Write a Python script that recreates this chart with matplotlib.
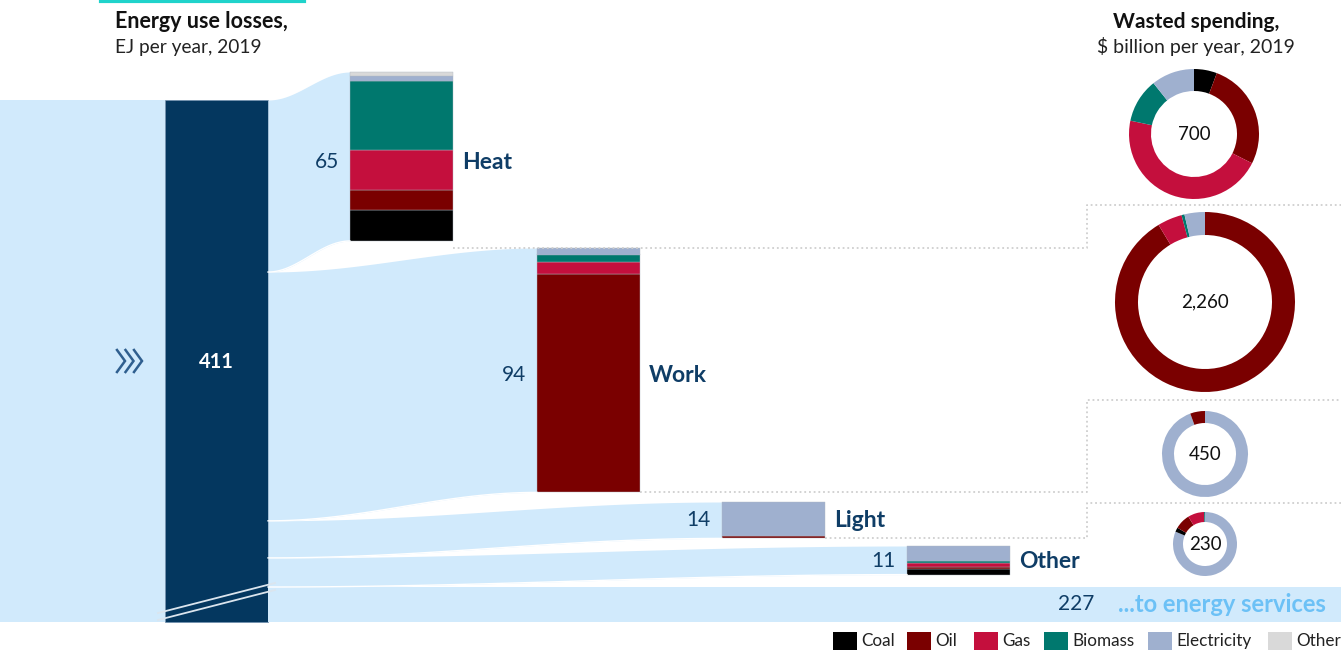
import numpy as np
import matplotlib.pyplot as plt
from matplotlib.patches import Rectangle

plt.rcParams['font.family'] = ['Lato', 'DejaVu Sans']

# ---- data ----
uses = ['Heat', 'Work', 'Light', 'Other']
use_totals = [65, 94, 14, 11]          # EJ per year
total_losses = 411
services_total = 227

fuels = ['Coal', 'Oil', 'Gas', 'Biomass', 'Electricity', 'Other']

# EJ by fuel for each end use (Coal, Oil, Gas, Biomass, Electricity, Other)
heat_ej = [12, 7.5, 15.5, 26.5, 2, 1.5]
work_ej = [0, 84, 4.5, 3, 2.5, 0]
light_ej = [0, 1, 0, 0, 13, 0]
other_ej = [2.2, 0.8, 1.5, 0.7, 5.8, 0]

# wasted spending, $ billion per year
spend_totals = [700, 2260, 450, 230]
heat_usd = [40, 187, 321, 77, 75, 0]
work_usd = [0, 2065, 100, 12, 83, 0]
light_usd = [0, 25, 0, 0, 425, 0]
other_usd = [5, 18, 19, 1, 187, 0]

# ---- style / layout ----
fuel_colors = ['#000000', '#7a0000', '#c40f3d', '#00786e', '#9fb0cf', '#d9d9d9']
flow_color = '#d1eafc'
bar_color = '#04375f'
label_blue = '#0f3d66'
W, H = 1341, 652
k = 2.6                     # px per EJ for end-use bars

fig = plt.figure(figsize=(W / 100, H / 100), dpi=100)
ax = fig.add_axes([0, 0, 1, 1])
ax.set_xlim(0, W)
ax.set_ylim(H, 0)
ax.axis('off')

# main bar
main_x0, main_x1 = 165, 268
main_top, main_bot = 100, 622
serv_h = 35                 # broken-scale band for services
ax.fill_between([0, main_x0], main_top, main_bot, color=flow_color, lw=0)
ax.bar((main_x0 + main_x1) / 2, main_bot - main_top, bottom=main_top,
       width=main_x1 - main_x0, color=bar_color, edgecolor='#6f8fae', lw=0.5)
ax.text((main_x0 + main_x1) / 2, 362, str(total_losses), color='white',
        fontsize=14.5, fontweight='bold', ha='center', va='center')
for dy in (0, 7):
    ax.plot([158, 275], [613 + dy, 583 + dy], color='#dbe5ee', lw=1.3)

# chevrons
for i in range(3):
    x0 = 117 + i * 8.5
    ax.plot([x0, x0 + 8, x0], [350, 361, 372], color='#2f5f8f', lw=1.8,
            solid_joinstyle='miter')

ax.plot([101, 304], [1, 1], color='#1fd3cb', lw=3)

# flows
bar_tops = [72, 248, 502, 546]
bar_x0 = [350, 537, 722, 907]
bar_w = 103
src_scale = (main_bot - serv_h - main_top) / sum(use_totals)


def s_curve(xa, xb, ya, yb, n=80):
    xs = np.linspace(xa, xb, n)
    t = (1 - np.cos(np.pi * (xs - xa) / (xb - xa))) / 2
    return xs, ya + (yb - ya) * t


src = main_top
for tot, top, x0 in zip(use_totals, bar_tops, bar_x0):
    xs, ytop = s_curve(main_x1, x0, src, top)
    _, ybot = s_curve(main_x1, x0, src + tot * src_scale, top + tot * k)
    ax.fill_between(xs, ytop, ybot, color=flow_color, lw=0)
    ax.plot(xs, ybot, color='white', lw=1.0)
    src += tot * src_scale
ax.fill_between([main_x1, W], main_bot - serv_h, main_bot, color=flow_color, lw=0)

# stacked end-use bars
label_shift = [6, 5, 0, 1]
for name, tot, top, x0, parts, sh in zip(uses, use_totals, bar_tops, bar_x0,
                                         [heat_ej, work_ej, light_ej, other_ej],
                                         label_shift):
    bottom = top + tot * k
    cum = 0
    for v, c in zip(parts, fuel_colors):
        if v == 0:
            continue
        ax.bar(x0 + bar_w / 2, -v * k, bottom=bottom - cum * k, width=bar_w,
               color=c, edgecolor='#b0b8c4', lw=0.3)
        cum += v
    yc = top + tot * k / 2 + sh
    ax.text(x0 - 11, yc, str(tot), color=label_blue, fontsize=15,
            ha='right', va='center')
    ax.text(x0 + bar_w + 9, yc, name, color=label_blue, fontsize=16.5,
            fontweight='bold', ha='left', va='center')

yc = main_bot - serv_h / 2
ax.text(1094, yc, str(services_total), color=label_blue, fontsize=15,
        ha='right', va='center')
ax.text(1118, yc, '...to energy services', color='#6cc1f6', fontsize=17,
        fontweight='bold', ha='left', va='center')

# dotted separators between end uses
dot = dict(color='#cfcfcf', lw=1.3, ls=(0, (1, 1.6)))
donut_sep = [205, 400, 503]
for i, ysep in enumerate(donut_sep):
    y_bar = bar_tops[i + 1] if i == 0 else bar_tops[i] + use_totals[i] * k
    ax.plot([bar_x0[i] + bar_w, 1087, 1087, W], [y_bar, y_bar, ysep, ysep], **dot)

# headers
ax.text(115, 22, 'Energy use losses,', fontsize=15.5, fontweight='bold',
        ha='left', va='center', color='#111111')
ax.text(115, 47, 'EJ per year, 2019', fontsize=13.8, ha='left', va='center',
        color='#222222')
ax.text(1196, 22, 'Wasted spending,', fontsize=15, fontweight='bold',
        ha='center', va='center', color='#111111')
ax.text(1196, 47, '$ billion per year, 2019', fontsize=14, ha='center',
        va='center', color='#222222')

# donuts
centers = [(1194, 134), (1205, 302), (1205, 454), (1205, 544)]
radii = [65, 90, 43, 32]
rings = [22, 23, 12, 10]
elec_first = [False, False, True, True]
for (cx, cy), r, rw, tot, vals, ef in zip(centers, radii, rings, spend_totals,
                                          [heat_usd, work_usd, light_usd, other_usd],
                                          elec_first):
    dax = fig.add_axes([(cx - r) / W, 1 - (cy + r) / H, 2 * r / W, 2 * r / H])
    pairs = [(v, c) for v, c in zip(vals, fuel_colors) if v > 0]
    if ef:
        pairs = [pairs[-1]] + pairs[:-1]
    dax.pie([p[0] for p in pairs], colors=[p[1] for p in pairs], startangle=90,
            counterclock=False, radius=1, wedgeprops=dict(width=rw / r, lw=0))
    dax.set_xlim(-1, 1)
    dax.set_ylim(-1, 1)
    dax.set_aspect('equal')
    dax.text(0, 0, f'{tot:,}', fontsize=13.5, ha='center', va='center',
             color='#111111')

# legend
leg_x = [833, 907, 974, 1044, 1148, 1268]
for x, name, c in zip(leg_x, fuels, fuel_colors):
    ax.add_patch(Rectangle((x, 632), 24, 18, color=c, lw=0))
    ax.text(x + 28, 641, name, fontsize=12.3, ha='left', va='center',
            color='#222222')

fig.savefig('out.png', dpi=100)
